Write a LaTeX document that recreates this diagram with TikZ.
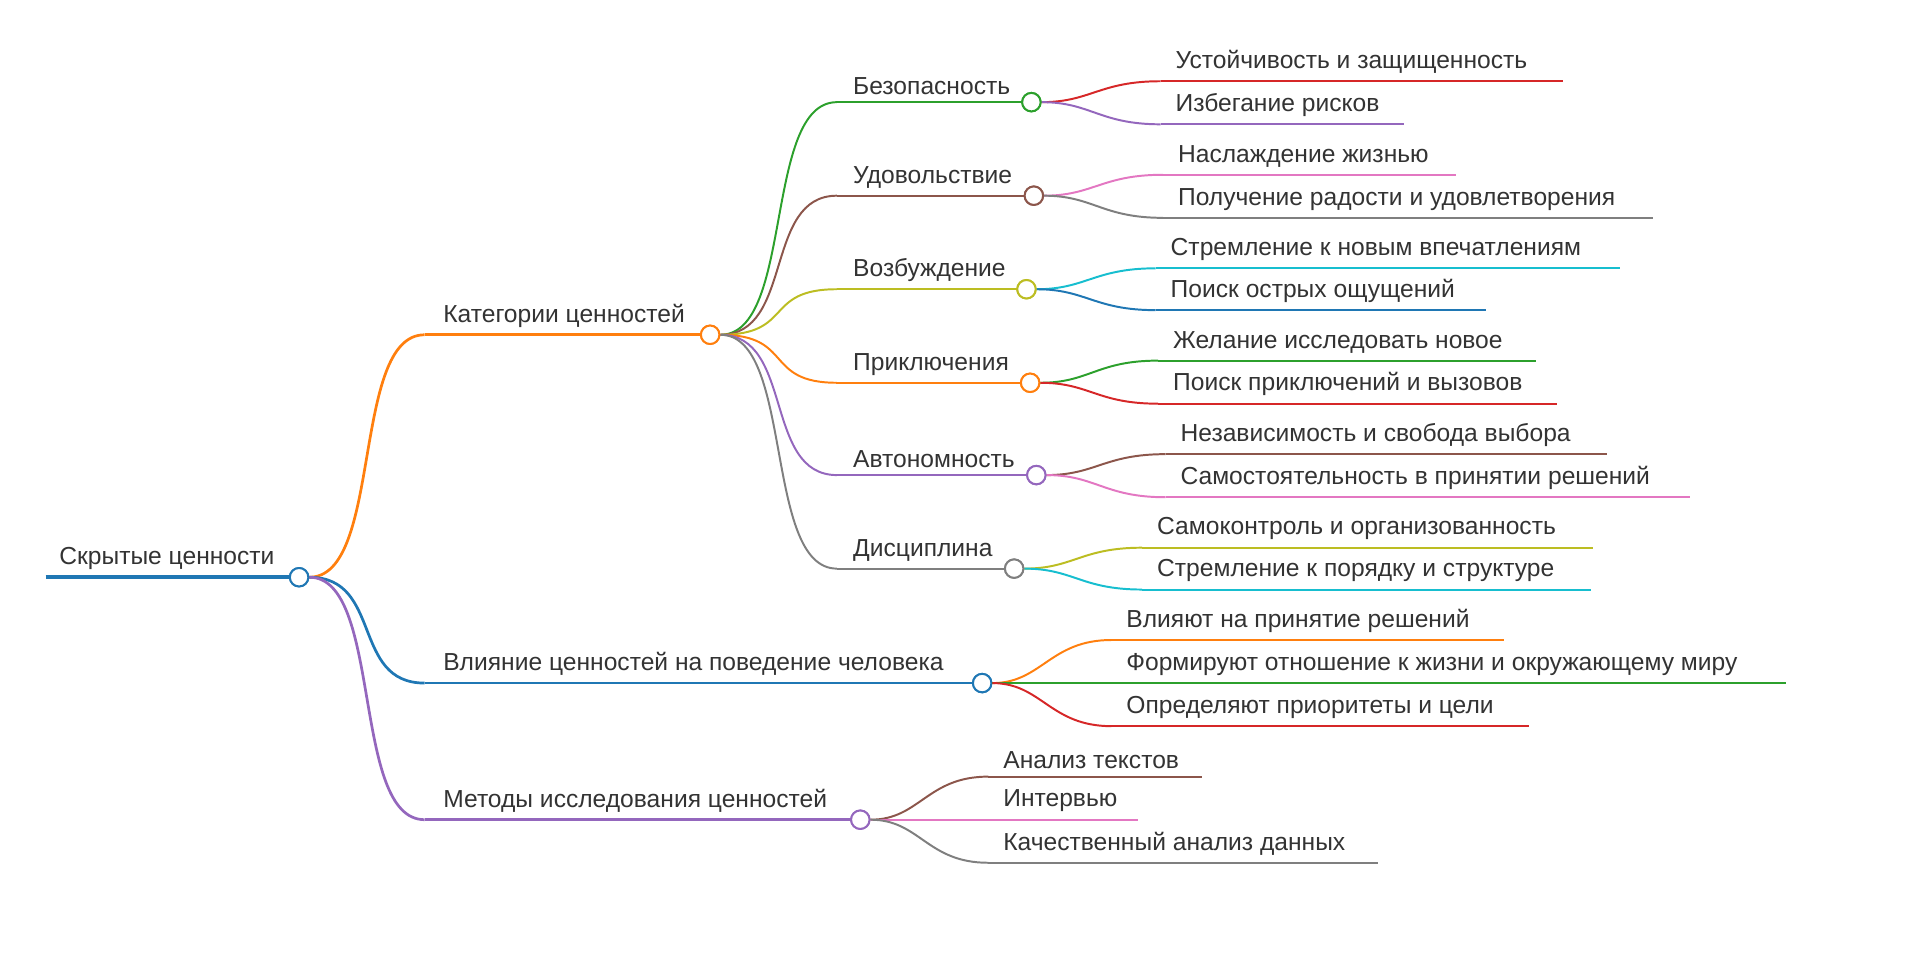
\documentclass[tikz,border=0pt]{standalone}
\usepackage{fontspec}
\setmainfont{Liberation Sans}
\definecolor{cB}{HTML}{1F77B4}\definecolor{cO}{HTML}{FF7F0E}\definecolor{cG}{HTML}{2CA02C}
\definecolor{cR}{HTML}{D62728}\definecolor{cP}{HTML}{9467BD}\definecolor{cBr}{HTML}{8C564B}
\definecolor{cPk}{HTML}{E377C2}\definecolor{cGr}{HTML}{7F7F7F}\definecolor{cOl}{HTML}{BCBD22}
\definecolor{cC}{HTML}{17BECF}\definecolor{tx}{HTML}{333333}
\tikzset{lbl/.style={anchor=south west,inner sep=0pt,font=\fontsize{20}{24}\selectfont,text=tx},
 dot/.style={circle,draw,fill=white,minimum size=15pt,inner sep=0pt,line width=1.6pt},
 edge/.style={line width=1.6pt}}
% name, parent, color, y, xstart, xtext, xend, text
\newcommand\mmleaf[8]{%
 \coordinate (#1s) at (#5,#4);
 \node[lbl] (#1) at (#6,#4-6) {#8};
 \draw[#3,edge] (#1s) -- (#7,#4);
 \draw[#3,edge] (#2.east) .. controls +(40,0) and +(-50,0) .. (#1s);}
\begin{document}
\begin{tikzpicture}[x=1pt,y=-1pt]
\useasboundingbox (0,0) rectangle (1560,784);
% root
\coordinate (roots) at (37,469);
\node[lbl] (root) at (48,463) {Скрытые ценности};
\draw[cB,line width=3pt] (roots) -- (236,469);
% level 1
\newcommand\mmmid[9]{%
 \coordinate (#1s) at (#5,#4);
 \node[lbl] (#1) at (#6,#4-6) {#8};
 \draw[#3,line width=#9] (#2.east) .. controls +(60,0) and +(-60,0) .. (#1s);
 \draw[#3,line width=#9] (#1s) -- (#7,#4);
 \node[dot,draw=#3] (#1c) at (#7+7,#4) {};}
\node[dot,draw=cB] (rootc) at (243,469) {};
\mmmid{kat}{rootc}{cO}{272}{345}{360}{570}{Категории ценностей}{2.2pt}
\mmmid{vli}{rootc}{cB}{555}{345}{360}{791}{Влияние ценностей на поведение человека}{2.2pt}
\mmmid{met}{rootc}{cP}{666}{345}{360}{692}{Методы исследования ценностей}{2.2pt}
% level 2
\mmmid{bez}{katc}{cG}{83}{680}{693}{831}{Безопасность}{1.6pt}
\mmmid{udo}{katc}{cBr}{159}{680}{693}{833}{Удовольствие}{1.6pt}
\mmmid{voz}{katc}{cOl}{235}{680}{693}{827}{Возбуждение}{1.6pt}
\mmmid{pri}{katc}{cO}{311}{680}{693}{830}{Приключения}{1.6pt}
\mmmid{avt}{katc}{cP}{386}{680}{693}{835}{Автономность}{1.6pt}
\mmmid{dis}{katc}{cGr}{462}{680}{693}{817}{Дисциплина}{1.6pt}
\node[dot,draw=cB] at (243,469) {};
\node[dot,draw=cO] at (577,272) {};
\node[dot,draw=cB] at (798,555) {};
\node[dot,draw=cP] at (699,666) {};
% leaves
\mmleaf{l1}{bezc}{cR}{66}{943}{955}{1270}{Устойчивость и защищенность}
\mmleaf{l2}{bezc}{cP}{101}{943}{955}{1141}{Избегание рисков}
\mmleaf{l3}{udoc}{cPk}{142}{945}{957}{1183}{Наслаждение жизнью}
\mmleaf{l4}{udoc}{cGr}{177}{945}{957}{1343}{Получение радости и удовлетворения}
\mmleaf{l5}{vozc}{cC}{218}{939}{951}{1316}{Стремление к новым впечатлениям}
\mmleaf{l6}{vozc}{cB}{252}{939}{951}{1207}{Поиск острых ощущений}
\mmleaf{l7}{pric}{cG}{293}{941}{953}{1248}{Желание исследовать новое}
\mmleaf{l8}{pric}{cR}{328}{941}{953}{1265}{Поиск приключений и вызовов}
\mmleaf{l9}{avtc}{cBr}{369}{947}{959}{1306}{Независимость и свобода выбора}
\mmleaf{l10}{avtc}{cPk}{404}{947}{959}{1373}{Самостоятельность в принятии решений}
\mmleaf{l11}{disc}{cOl}{445}{928}{940}{1294}{Самоконтроль и организованность}
\mmleaf{l12}{disc}{cC}{479}{928}{940}{1293}{Стремление к порядку и структуре}
\mmleaf{l13}{vlic}{cO}{520}{903}{915}{1222}{Влияют на принятие решений}
\mmleaf{l14}{vlic}{cG}{555}{903}{915}{1451}{Формируют отношение к жизни и окружающему миру}
\mmleaf{l15}{vlic}{cR}{590}{903}{915}{1242}{Определяют приоритеты и цели}
\mmleaf{l16}{metc}{cBr}{631}{803}{815}{977}{Анализ текстов}
\mmleaf{l17}{metc}{cPk}{666}{803}{815}{925}{Интервью}
\mmleaf{l18}{metc}{cGr}{701}{803}{815}{1120}{Качественный анализ данных}
% redraw level-2 dots on top
\foreach \n/\c in {bez/cG,udo/cBr,voz/cOl,pri/cO,avt/cP,dis/cGr}{\node[dot,draw=\c] at (\n c) {};}
\end{tikzpicture}
\end{document}
